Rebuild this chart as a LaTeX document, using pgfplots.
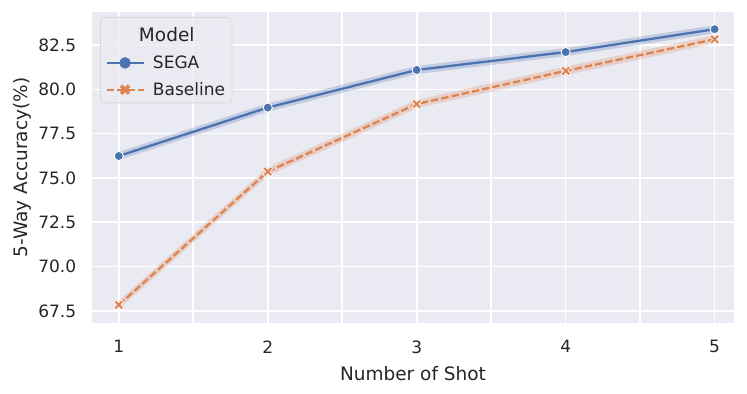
\documentclass[border=0pt]{standalone}
\usepackage{fontspec}
\setmainfont{DejaVu Sans}
\usepackage{pgfplots}
\pgfplotsset{compat=1.18}
\definecolor{bgc}{HTML}{EAEAF2}
\definecolor{sblue}{HTML}{4C72B0}
\definecolor{sorange}{HTML}{DD8452}
\definecolor{txt}{HTML}{262626}
\pgfdeclareplotmark{fatx}{%
  \pgfsetbuttcap
  \pgfsetlinewidth{3.6bp}\pgfsetstrokecolor{white}%
  \pgfpathmoveto{\pgfqpoint{-\pgfplotmarksize}{-\pgfplotmarksize}}\pgfpathlineto{\pgfqpoint{\pgfplotmarksize}{\pgfplotmarksize}}%
  \pgfpathmoveto{\pgfqpoint{-\pgfplotmarksize}{\pgfplotmarksize}}\pgfpathlineto{\pgfqpoint{\pgfplotmarksize}{-\pgfplotmarksize}}%
  \pgfusepathqstroke
  \pgfsetlinewidth{2.1bp}\pgfsetstrokecolor{sorange}%
  \pgfpathmoveto{\pgfqpoint{-0.85\pgfplotmarksize}{-0.85\pgfplotmarksize}}\pgfpathlineto{\pgfqpoint{0.85\pgfplotmarksize}{0.85\pgfplotmarksize}}%
  \pgfpathmoveto{\pgfqpoint{-0.85\pgfplotmarksize}{0.85\pgfplotmarksize}}\pgfpathlineto{\pgfqpoint{0.85\pgfplotmarksize}{-0.85\pgfplotmarksize}}%
  \pgfusepathqstroke
}
\begin{document}
\begin{tikzpicture}
\begin{axis}[
  name=ax,
  scale only axis,
  width=642bp, height=311bp,
  xmin=0.82, xmax=5.13,
  ymin=66.82, ymax=84.36,
  axis background/.style={fill=bgc},
  axis line style={draw=none},
  major tick length=0pt, minor tick length=0pt,
  xtick={1,2,3,4,5},
  minor xtick={1.5,2.5,3.5,4.5},
  ytick={67.5,70,72.5,75,77.5,80,82.5},
  yticklabel style={/pgf/number format/fixed, /pgf/number format/fixed zerofill, /pgf/number format/precision=1},
  /pgf/number format/assume math mode=true,
  xmajorgrids, ymajorgrids, xminorgrids,
  grid style={white, line width=1.6bp},
  minor grid style={white, line width=1.6bp},
  ticklabel style={font=\fontsize{17bp}{20bp}\selectfont, text=txt},
  label style={font=\fontsize{18.5bp}{22bp}\selectfont, text=txt},
  xticklabel style={yshift=-14bp},
  yticklabel style={xshift=-12.3bp},
  xlabel={Number of Shot},
  ylabel={5-Way Accuracy(\%)},
  xlabel style={yshift=-6bp},
  ylabel style={yshift=0bp},
  legend style={at={(0.0125,0.984)}, anchor=north west, draw=black!15, line width=0.8bp, fill=bgc, fill opacity=0.8, text opacity=1, rounded corners=4bp, font=\fontsize{17bp}{20bp}\selectfont, text=txt, row sep=8.5bp, inner xsep=5bp, inner ysep=4bp},
  legend cell align=left,
]
% confidence bands
\addplot[fill=sblue, fill opacity=0.25, draw=none, forget plot] coordinates {
 (1,76.47) (2,79.20) (3,81.32) (4,82.33) (5,83.62)
 (5,83.16) (4,81.87) (3,80.86) (2,78.74) (1,76.01) } -- cycle;
\addplot[fill=sorange, fill opacity=0.25, draw=none, forget plot] coordinates {
 (1,68.07) (2,75.60) (3,79.41) (4,81.28) (5,83.05)
 (5,82.59) (4,80.80) (3,78.93) (2,75.12) (1,67.61) } -- cycle;
\addplot[sblue, line width=2.3bp, mark=*, mark size=4.6bp, mark options={fill=sblue, draw=white, line width=0.9bp}, forget plot]
 coordinates {(1,76.24) (2,78.97) (3,81.09) (4,82.10) (5,83.39)};
\addplot[sorange, line width=2.3bp, dash pattern=on 7.5bp off 3bp, mark=fatx, mark size=4.2bp, mark options={solid}, forget plot]
 coordinates {(1,67.84) (2,75.36) (3,79.17) (4,81.04) (5,82.82)};
\addlegendimage{empty legend}
\addlegendentry{\hspace*{-14bp}\rule{0pt}{18.5bp}\fontsize{18.5bp}{22bp}\selectfont Model}
\addlegendimage{legend image code/.code={\draw[sblue, line width=2.3bp, draw opacity=1] (0bp,0bp) -- (37bp,0bp); \fill[sblue, fill opacity=1] (18.5bp,0bp) circle (5.3bp); \path (44bp,0bp);}}
\addlegendentry{SEGA}
\addlegendimage{legend image code/.code={\draw[sorange, line width=2.3bp, draw opacity=1, dash pattern=on 7.5bp off 3bp] (0bp,0bp) -- (37bp,0bp); \draw[sorange, line width=3.6bp, draw opacity=1] (14.5bp,-4bp) -- (22.5bp,4bp) (14.5bp,4bp) -- (22.5bp,-4bp); \path (44bp,0bp);}}
\addlegendentry{Baseline}
\end{axis}
\path (ax.south west) ++(-92bp,-71bp) coordinate (bl);
\path (ax.north east) ++(13bp,12bp) coordinate (tr);
\path (bl) rectangle (tr);
\end{tikzpicture}
\end{document}
